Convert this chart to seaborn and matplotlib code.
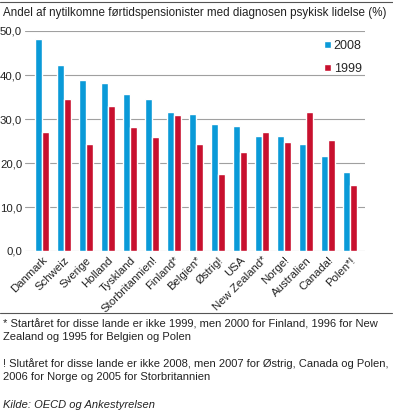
import matplotlib
import matplotlib.pyplot as plt
import pandas as pd
import seaborn as sns
from matplotlib.patches import Patch
from matplotlib.ticker import FuncFormatter

matplotlib.use("Agg")

# Data
countries = [
    "Danmark", "Schweiz", "Sverige", "Holland", "Tyskland", "Storbritannien!",
    "Finland*", "Belgien*", "Østrig!", "USA", "New Zealand*", "Norge!",
    "Australien", "Canada!", "Polen*!",
]
values_2008 = [48.2, 42.3, 38.9, 38.1, 35.7, 34.5, 31.5, 31.1, 28.9, 28.4, 26.1, 26.1, 24.4, 21.7, 18.0]
values_1999 = [27.0, 34.5, 24.3, 32.9, 28.1, 25.8, 30.8, 24.3, 17.4, 22.5, 27.0, 24.8, 31.7, 25.2, 15.1]
years = ["2008", "1999"]
colors = {"2008": "#0a9ad8", "1999": "#c8102e"}

title = "Andel af nytilkomne førtidspensionister med diagnosen psykisk lidelse (%)"
notes = [
    "* Startåret for disse lande er ikke 1999, men 2000 for Finland, 1996 for New\nZealand og 1995 for Belgien og Polen",
    "! Slutåret for disse lande er ikke 2008, men 2007 for Østrig, Canada og Polen,\n2006 for Norge og 2005 for Storbritannien",
]
source = "Kilde: OECD og Ankestyrelsen"

df = pd.DataFrame({
    "land": countries * 2,
    "aar": ["2008"] * len(countries) + ["1999"] * len(countries),
    "andel": values_2008 + values_1999,
})

sns.set_style("white")
plt.rcParams["font.family"] = ["Liberation Sans", "DejaVu Sans"]

W, H = 393, 415
fig = plt.figure(figsize=(W / 100, H / 100), dpi=100)
ax = fig.add_axes([25 / W, 1 - 251 / H, 340 / W, 220 / H])

sns.barplot(
    data=df, x="land", y="andel", hue="aar", hue_order=years,
    palette=colors, width=0.6, gap=0, ax=ax, legend=False, saturation=1,
)

ax.set_ylim(0, 50)
ax.set_xlim(-0.77, 14.68)
ax.set_yticks([0, 10, 20, 30, 40, 50])
ax.yaxis.set_major_formatter(FuncFormatter(lambda v, _: f"{v:.1f}".replace(".", ",")))
ax.grid(axis="y", color="#a0a0a0", linewidth=0.8)
ax.set_axisbelow(True)
for s in ax.spines.values():
    s.set_visible(False)
ax.tick_params(axis="both", length=0, labelsize=8.2, colors="#222222")
ax.tick_params(axis="y", pad=2)
ax.tick_params(axis="x", pad=3)
plt.setp(ax.get_xticklabels(), rotation=45, ha="right", rotation_mode="anchor")
ax.set_xlabel("")
ax.set_ylabel("")

handles = [Patch(facecolor=colors[y], label=y) for y in years]
fig.legend(
    handles=handles, loc="upper left", bbox_to_anchor=(313 / W, 1 - 29 / H),
    frameon=False, fontsize=9, handlelength=0.5, handleheight=0.5,
    handletextpad=0.25, labelspacing=0.85,
)

fig.text(3 / W, 1 - 13 / H, title, fontsize=8.4, va="center", ha="left", color="#222222")
fig.add_artist(plt.Line2D([0, 1], [1 - 2 / H, 1 - 2 / H], color="#555555", linewidth=0.8))
fig.add_artist(plt.Line2D([0, 392 / W], [1 - 313 / H, 1 - 313 / H], color="#555555", linewidth=0.8))

fig.text(3 / W, 1 - 319 / H, notes[0], fontsize=8.0, va="top", ha="left",
         linespacing=1.35, color="#222222")
fig.text(3 / W, 1 - 358 / H, notes[1], fontsize=8.0, va="top", ha="left",
         linespacing=1.35, color="#222222")
fig.text(3 / W, 1 - 400 / H, source, fontsize=8.0, va="top", ha="left",
         style="italic", color="#222222")

fig.savefig("out.png", dpi=100)
